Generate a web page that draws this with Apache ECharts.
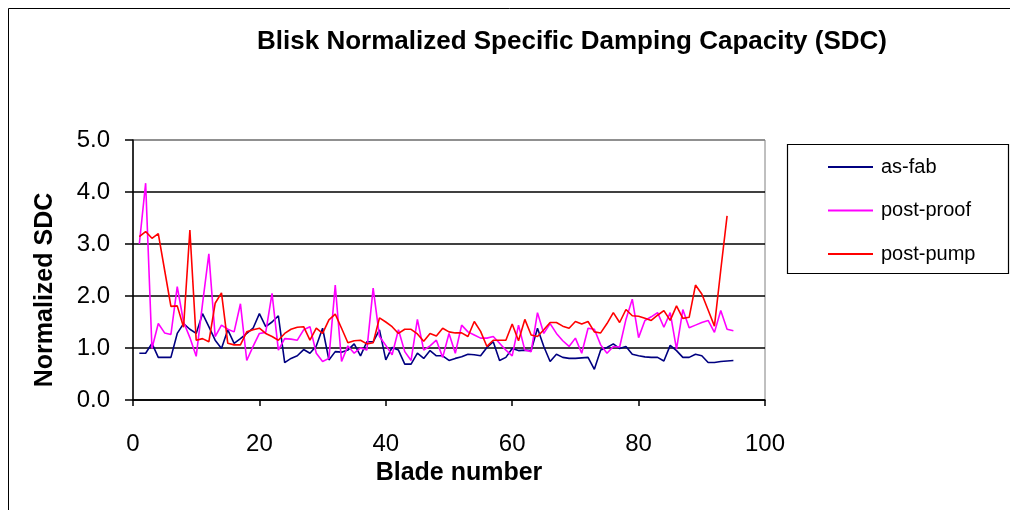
<!DOCTYPE html>
<html>
<head>
<meta charset="utf-8">
<script src="https://cdn.jsdelivr.net/npm/echarts@6/dist/echarts.min.js"></script>
<style>
  html, body { margin: 0; padding: 0; background: #fff; }
  #chart { width: 1010px; height: 510px; }
</style>
</head>
<body>
<div id="chart"></div>
<script>
// blade 1..95, values
const asFab = [
  0.9, 0.9, 1.09, 0.82, 0.82, 0.82, 1.28, 1.47, 1.36, 1.28,
  1.66, 1.41, 1.15, 0.99, 1.35, 1.09, 1.18, 1.28, 1.38, 1.66,
  1.41, 1.5, 1.62, 0.72, 0.8, 0.85, 0.97, 0.9, 1.04, 1.38,
  0.77, 0.93, 0.92, 0.96, 1.08, 0.85, 1.12, 1.12, 1.35, 0.77,
  1.01, 0.96, 0.69, 0.69, 0.9, 0.8, 0.95, 0.85, 0.85, 0.76,
  0.8, 0.83, 0.88, 0.87, 0.85, 1.01, 1.12, 0.76, 0.82, 0.99,
  0.95, 0.96, 0.95, 1.38, 1.03, 0.74, 0.88, 0.82, 0.8, 0.8,
  0.81, 0.82, 0.59, 0.96, 1.01, 1.08, 0.99, 1.03, 0.88, 0.85,
  0.83, 0.82, 0.82, 0.75, 1.05, 0.95, 0.82, 0.82, 0.88, 0.85,
  0.72, 0.72, 0.74, 0.75, 0.76
];
const postProof = [
  3.0, 4.17, 0.99, 1.47, 1.29, 1.26, 2.18, 1.5, 1.2, 0.84,
  1.85, 2.81, 1.22, 1.44, 1.36, 1.31, 1.85, 0.76, 1.03, 1.28,
  1.3, 2.05, 0.96, 1.18, 1.17, 1.15, 1.35, 1.41, 0.9, 0.74,
  0.8, 2.21, 0.74, 1.04, 0.9, 1.0, 0.96, 2.15, 1.22, 1.05,
  0.87, 1.35, 0.93, 0.76, 1.55, 0.96, 1.04, 1.15, 0.82, 1.28,
  0.9, 1.44, 1.31, 1.25, 1.19, 1.19, 1.22, 1.09, 0.96, 0.85,
  1.44, 0.96, 0.93, 1.68, 1.28, 1.47, 1.28, 1.14, 1.03, 1.19,
  0.9, 1.38, 1.36, 1.06, 0.9, 1.03, 1.02, 1.55, 1.94, 1.2,
  1.53, 1.6, 1.68, 1.4, 1.68, 0.98, 1.74, 1.39, 1.44, 1.49,
  1.53, 1.3, 1.72, 1.36, 1.33
];
const postPump = [
  3.14, 3.24, 3.11, 3.2, 2.5, 1.8, 1.81, 1.4, 3.27, 1.15,
  1.18, 1.12, 1.86, 2.06, 1.09, 1.06, 1.06, 1.31, 1.35, 1.38,
  1.28, 1.22, 1.15, 1.28, 1.36, 1.4, 1.41, 1.15, 1.38, 1.28,
  1.54, 1.65, 1.38, 1.1, 1.14, 1.15, 1.08, 1.1, 1.58, 1.5,
  1.41, 1.28, 1.36, 1.36, 1.27, 1.13, 1.28, 1.23, 1.38, 1.31,
  1.29, 1.29, 1.22, 1.51, 1.32, 1.03, 1.15, 1.15, 1.15, 1.46,
  1.14, 1.55, 1.25, 1.22, 1.35, 1.49, 1.49, 1.42, 1.38, 1.51,
  1.46, 1.51, 1.31, 1.29, 1.47, 1.68, 1.49, 1.74, 1.62, 1.61,
  1.57, 1.53, 1.63, 1.72, 1.53, 1.81, 1.57, 1.59, 2.21, 2.04,
  1.73, 1.42, 2.5, 3.54
];
const seriesNames = ['as-fab', 'post-proof', 'post-pump'];
const seriesColors = ['#000080', '#ff00ff', '#ff0000'];

const font = '"Liberation Sans", Arial, sans-serif';
const toPairs = vals => vals.map((v, i) => [i + 1, v]);

const myChart = echarts.init(document.getElementById('chart'));

const option = {
  animation: false,
  color: seriesColors,
  title: {
    text: 'Blisk Normalized Specific Damping Capacity (SDC)',
    left: 567,
    top: 24,
    textAlign: 'center',
    textStyle: { fontFamily: font, fontSize: 26, fontWeight: 'bold', color: '#000' }
  },
  grid: {
    left: 133, right: 245, top: 140, bottom: 110,
    show: true, borderColor: '#808080', borderWidth: 1
  },
  legend: {
    orient: 'vertical',
    left: 828, top: 157,
    padding: 0,
    itemGap: 23.5,
    itemWidth: 45, itemHeight: 10,
    icon: 'path://M0,4 L45,4 L45,6 L0,6 Z',
    data: seriesNames,
    textStyle: { fontFamily: font, fontSize: 20, color: '#000', padding: [0, 0, 0, 3] }
  },
  xAxis: {
    type: 'value',
    min: 0, max: 100, interval: 20,
    name: 'Blade number',
    nameLocation: 'middle',
    nameGap: 57,
    nameTextStyle: {
      fontFamily: font, fontSize: 25, fontWeight: 'bold', color: '#000',
      padding: [0, 0, 0, 20]
    },
    axisLine: { lineStyle: { color: '#000', width: 1.5 } },
    axisTick: { length: 6, lineStyle: { color: '#000', width: 1.5 } },
    axisLabel: { fontFamily: font, fontSize: 24, color: '#000', margin: 32 },
    splitLine: { show: false }
  },
  yAxis: {
    type: 'value',
    min: 0, max: 5, interval: 1,
    axisLine: { show: true, lineStyle: { color: '#000', width: 1.5 } },
    axisTick: { show: true, length: 8, lineStyle: { color: '#000', width: 1.5 } },
    axisLabel: {
      fontFamily: font, fontSize: 24, color: '#000', margin: 23,
      formatter: v => v.toFixed(1)
    },
    splitLine: {
      lineStyle: { color: ['#000', '#000', '#000', '#000', '#000', '#808080'], width: 1.6 }
    }
  },
  graphic: [
    {
      type: 'rect',
      shape: { x: 8.5, y: 8.5, width: 1100, height: 600 },
      style: { fill: 'none', stroke: '#000', lineWidth: 1 },
      silent: true
    },
    {
      type: 'rect',
      shape: { x: 787.5, y: 144.5, width: 221, height: 129 },
      style: { fill: 'none', stroke: '#000', lineWidth: 1.2 },
      silent: true
    },
    {
      type: 'text',
      x: 45, y: 290,
      rotation: Math.PI / 2,
      style: {
        text: 'Normalized SDC',
        fontFamily: font, fontSize: 25, fontWeight: 'bold', fill: '#000',
        align: 'center', verticalAlign: 'middle'
      },
      silent: true
    }
  ],
  series: [asFab, postProof, postPump].map((vals, i) => ({
    name: seriesNames[i],
    type: 'line',
    data: toPairs(vals),
    showSymbol: false,
    symbol: 'none',
    lineStyle: { width: 1.6, color: seriesColors[i] },
    z: 3 + i
  }))
};

myChart.setOption(option);
</script>
</body>
</html>
